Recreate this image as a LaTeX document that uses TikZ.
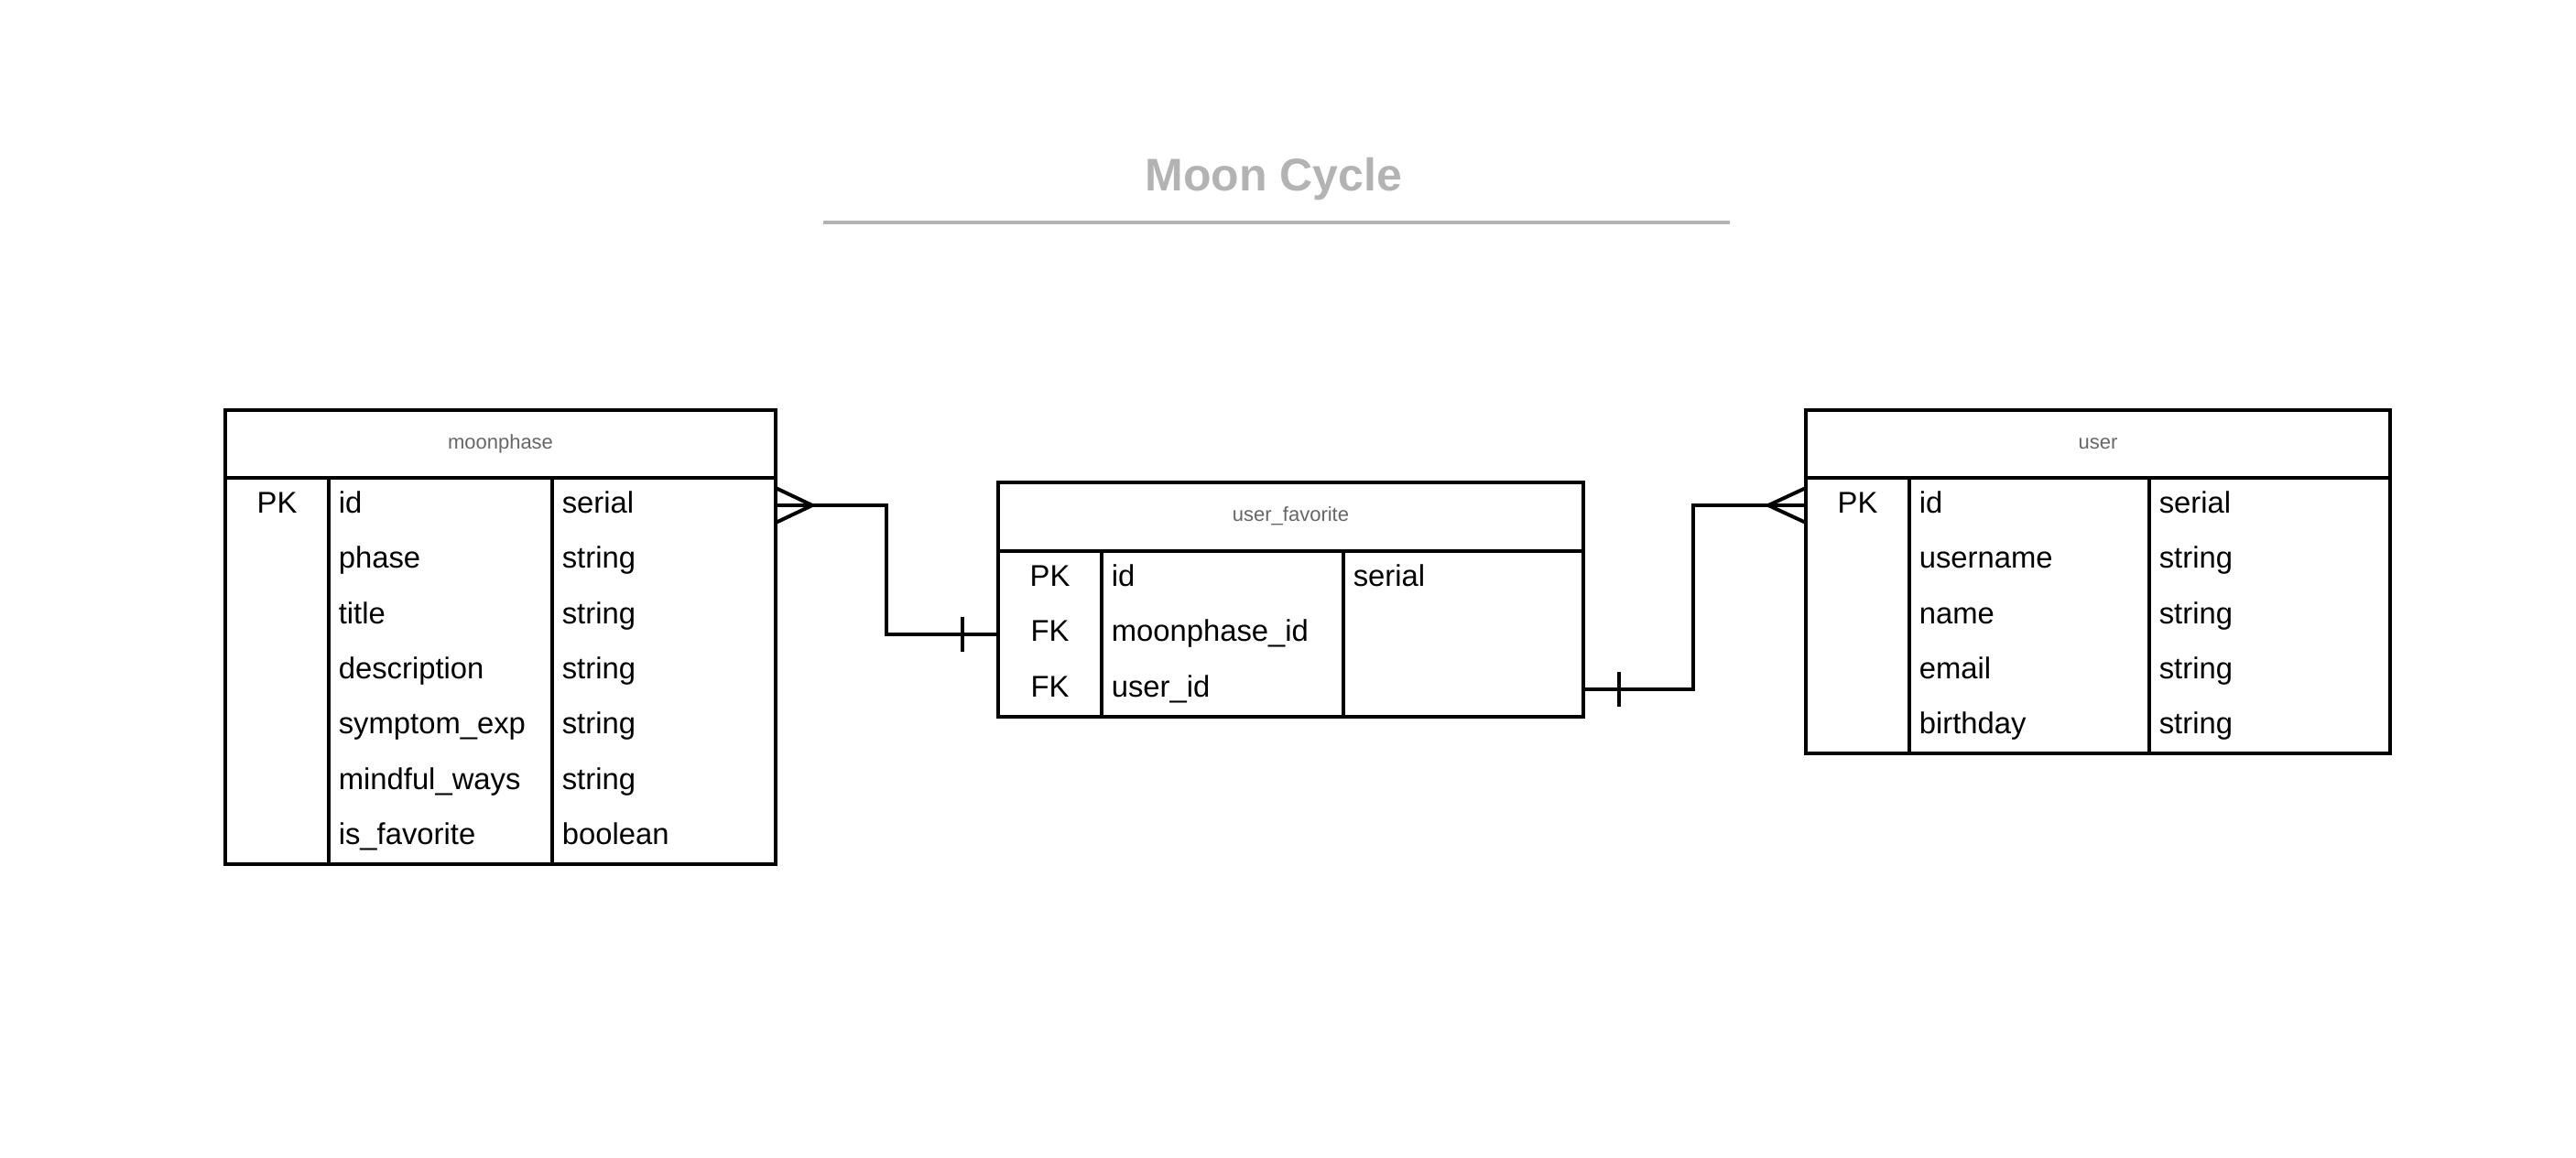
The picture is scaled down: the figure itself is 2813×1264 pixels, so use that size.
\documentclass[tikz,border=0pt]{standalone}
\usepackage{fontspec}
\setmainfont{Liberation Sans}
\usepackage{tikz}
\definecolor{titlegray}{HTML}{B3B3B3}
\definecolor{headgray}{HTML}{666666}

\begin{document}
\begin{tikzpicture}[x=.25pt,y=-.25pt,
  tbl/.style={line width=1pt},
  rel/.style={line width=1pt},
  head/.style={anchor=base, inner sep=0, text=headgray, font=\fontsize{5.5}{6.6}\selectfont},
  key/.style={anchor=base, inner sep=0, font=\fontsize{8.2}{9.8}\selectfont},
  field/.style={anchor=base west, inner sep=0, font=\fontsize{8.2}{9.8}\selectfont}]
\useasboundingbox (0,0) rectangle (2813,1264);

\node[anchor=base, inner sep=0, text=titlegray, font=\fontsize{12.5}{15}\selectfont\bfseries] (title) at (1391,208) {Moon Cycle};
\draw[titlegray, line width=1pt] (899,242.7) -- (1889,242.7); %title rule

%moonphase
\draw[tbl] (246,448) rectangle (847,944);
\draw[tbl] (246,522) -- (847,522);
\draw[tbl] (359,522) -- (359,944);
\draw[tbl] (603,522) -- (603,944);
\node[head] (mp-head) at (546.5,490) {moonphase};
\node[key] (mp-k1) at (302.5,560) {PK};
\node[field] (mp-f1) at (369,560) {id};
\node[field] (mp-f2) at (369,620.5) {phase};
\node[field] (mp-f3) at (369,681) {title};
\node[field] (mp-f4) at (369,741) {description};
\node[field] (mp-f5) at (369,801.4) {symptom\_exp};
\node[field] (mp-f6) at (369,862) {mindful\_ways};
\node[field] (mp-f7) at (369,922) {is\_favorite};
\node[field] (mp-t1) at (613,560) {serial};
\node[field] (mp-t2) at (613,620.5) {string};
\node[field] (mp-t3) at (613,681) {string};
\node[field] (mp-t4) at (613,741) {string};
\node[field] (mp-t5) at (613,801.4) {string};
\node[field] (mp-t6) at (613,862) {string};
\node[field] (mp-t7) at (613,922) {boolean};

%user_favorite
\draw[tbl] (1090,527) rectangle (1729,783);
\draw[tbl] (1090,602) -- (1729,602);
\draw[tbl] (1203,602) -- (1203,783);
\draw[tbl] (1467,602) -- (1467,783);
\node[head] (uf-head) at (1409.5,569.5) {user\_favorite};
\node[key] (uf-k1) at (1146.5,640) {PK};
\node[key] (uf-k2) at (1146.5,700.5) {FK};
\node[key] (uf-k3) at (1146.5,761) {FK};
\node[field] (uf-f1) at (1213,640) {id};
\node[field] (uf-f2) at (1213,700.5) {moonphase\_id};
\node[field] (uf-f3) at (1213,761) {user\_id};
\node[field] (uf-t1) at (1477,640) {serial};

%user
\draw[tbl] (1972,448) rectangle (2610,823);
\draw[tbl] (1972,522) -- (2610,522);
\draw[tbl] (2085,522) -- (2085,823);
\draw[tbl] (2347,522) -- (2347,823);
\node[head] (us-head) at (2291,490) {user};
\node[key] (us-k1) at (2028.5,560) {PK};
\node[field] (us-f1) at (2095,560) {id};
\node[field] (us-f2) at (2095,620.5) {username};
\node[field] (us-f3) at (2095,681) {name};
\node[field] (us-f4) at (2095,741) {email};
\node[field] (us-f5) at (2095,801.4) {birthday};
\node[field] (us-t1) at (2357,560) {serial};
\node[field] (us-t2) at (2357,620.5) {string};
\node[field] (us-t3) at (2357,681) {string};
\node[field] (us-t4) at (2357,741) {string};
\node[field] (us-t5) at (2357,801.4) {string};

%relations
\coordinate (mp-id) at (847,552);
\coordinate (uf-mp) at (1090,692.5);
\coordinate (uf-us) at (1729,753);
\coordinate (us-id) at (1972,552);

\draw[rel] (mp-id) -- ++(121,0) |- (uf-mp);
\draw[rel] (mp-id) ++(0,-19) -- ++(40,19) -- ++(-40,19); %many
\draw[rel] (uf-mp) ++(-39,-19) -- ++(0,38); %one

\draw[rel] (uf-us) -- ++(120,0) |- (us-id);
\draw[rel] (uf-us) ++(39,-19) -- ++(0,38); %one
\draw[rel] (us-id) ++(0,-19) -- ++(-41,19) -- ++(41,19); %many
\end{tikzpicture}
\end{document}
